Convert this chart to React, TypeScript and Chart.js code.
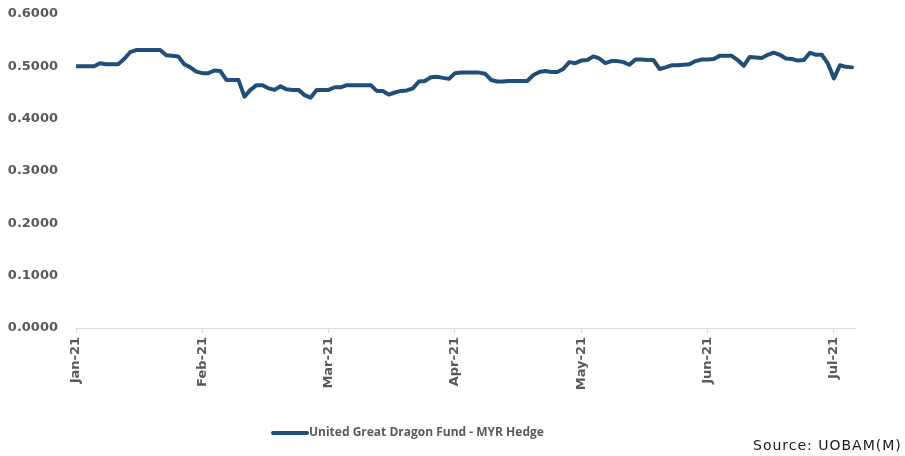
import { useEffect, useRef } from 'react';
import { Chart, registerables } from 'chart.js';

Chart.register(...registerables);

const monthLabels = ['Jan-21', 'Feb-21', 'Mar-21', 'Apr-21', 'May-21', 'Jun-21', 'Jul-21'];
const pointsPerMonth = 21;
const navValues = [
  0.500, 0.500, 0.500, 0.500, 0.506, 0.504, 0.504, 0.504, 0.514, 0.527,
  0.531, 0.531, 0.531, 0.531, 0.531, 0.521, 0.520, 0.519, 0.504, 0.498,
  0.490, 0.487, 0.487, 0.492, 0.491, 0.474, 0.474, 0.474, 0.442, 0.455,
  0.464, 0.464, 0.458, 0.455, 0.462, 0.456, 0.455, 0.455, 0.445, 0.440,
  0.455, 0.455, 0.455, 0.460, 0.460, 0.464, 0.464, 0.464, 0.464, 0.464,
  0.453, 0.453, 0.446, 0.450, 0.453, 0.454, 0.458, 0.471, 0.472, 0.479,
  0.480, 0.478, 0.476, 0.487, 0.488, 0.488, 0.488, 0.488, 0.486, 0.474,
  0.471, 0.471, 0.472, 0.472, 0.472, 0.472, 0.483, 0.489, 0.491, 0.489,
  0.489, 0.495, 0.508, 0.506, 0.511, 0.512, 0.519, 0.515, 0.506, 0.510,
  0.510, 0.508, 0.503, 0.513, 0.513, 0.512, 0.512, 0.495, 0.498, 0.502,
  0.502, 0.503, 0.504, 0.510, 0.513, 0.513, 0.514, 0.520, 0.520, 0.520,
  0.512, 0.501, 0.518, 0.517, 0.516, 0.522, 0.526, 0.522, 0.515, 0.514,
  0.511, 0.512, 0.526, 0.522, 0.522, 0.505, 0.477, 0.502, 0.499, 0.498,
];
const seriesName = 'United Great Dragon Fund - MYR Hedge';
const sourceText = 'Source: UOBAM(M)';
const lineColor = '#1f4e79';
const labelColor = '#595959';

export default function App() {
  const ref = useRef<HTMLCanvasElement>(null);

  useEffect(() => {
    if (!ref.current) return;
    const legendPlugin = {
      id: 'customLegend',
      afterDraw(chart: any) {
        const ctx = chart.ctx;
        ctx.save();
        const y = 433;
        ctx.strokeStyle = lineColor;
        ctx.lineWidth = 4;
        ctx.lineCap = 'round';
        ctx.beginPath();
        ctx.moveTo(273, y);
        ctx.lineTo(307, y);
        ctx.stroke();
        ctx.fillStyle = labelColor;
        ctx.font = 'bold 12px "Open Sans"';
        ctx.textBaseline = 'middle';
        ctx.textAlign = 'left';
        ctx.fillText(seriesName, 309, y);
        ctx.fillStyle = '#1a1a1a';
        ctx.font = '14px "DejaVu Sans"';
        try {
          (ctx as any).letterSpacing = '1px';
        } catch (e) {}
        ctx.fillText(sourceText, 753, 446);
        ctx.restore();
      },
    };

    const chart = new Chart(ref.current, {
      type: 'line',
      data: {
        datasets: [
          {
            label: seriesName,
            data: navValues.map((v, i) => ({ x: i, y: v })),
            borderColor: lineColor,
            backgroundColor: lineColor,
            borderWidth: 4,
            pointRadius: 0,
            tension: 0,
            borderJoinStyle: 'round',
            borderCapStyle: 'round',
          },
        ],
      },
      options: {
        responsive: false,
        animation: false,
        layout: { padding: { top: 14, right: 50, left: 0, bottom: 0 } },
        plugins: { legend: { display: false }, tooltip: { enabled: false } },
        scales: {
          x: {
            type: 'linear',
            min: 0,
            max: 129.5,
            afterBuildTicks: (s: any) => {
              s.ticks = monthLabels.map((_, i) => ({ value: i * pointsPerMonth }));
            },
            afterFit: (s: any) => {
              s.height = 128;
            },
            ticks: {
              callback: (v: any) => monthLabels[Math.round(Number(v) / pointsPerMonth)],
              minRotation: 90,
              maxRotation: 90,
              autoSkip: false,
              font: { family: 'DejaVu Sans', size: 13, weight: 'bold' },
              color: labelColor,
              padding: 4,
            },
            grid: { drawOnChartArea: false, drawTicks: true, tickLength: 5, color: '#d9d9d9' },
            border: { display: true, color: '#d9d9d9' },
          },
          y: {
            min: 0,
            max: 0.6,
            afterFit: (s: any) => {
              s.width = 76;
            },
            ticks: {
              stepSize: 0.1,
              callback: (v: any) => Number(v).toFixed(4),
              font: { family: 'DejaVu Sans', size: 13, weight: 'bold' },
              color: labelColor,
              padding: 0,
            },
            grid: { display: false, drawTicks: true, tickLength: 18 },
            border: { display: false },
          },
        },
      },
      plugins: [legendPlugin],
    } as any);
    return () => chart.destroy();
  }, []);

  return (
    <div style={{ position: 'fixed', left: 0, top: 0, width: 905, height: 456, background: '#fff' }}>
      <canvas ref={ref} width={905} height={456} style={{ display: 'block' }} />
    </div>
  );
}
